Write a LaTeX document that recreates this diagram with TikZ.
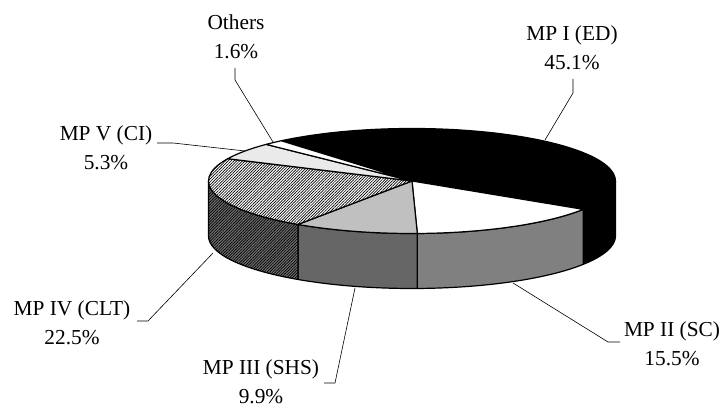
\documentclass[tikz,border=0pt]{standalone}
\usepackage{fontspec}
\setmainfont{Liberation Serif}
\usetikzlibrary{calc,patterns.meta}
\definecolor{gA}{RGB}{128,128,128}
\definecolor{gB}{RGB}{192,192,192}
\definecolor{gC}{RGB}{102,102,102}
\definecolor{gD}{RGB}{110,110,110}
\newcommand\sideface[3]{%
  \path[#3] ($(C)+(#1:203.5 and 52.5)$)
    arc[start angle=#1,end angle=#2,x radius=203.5,y radius=52.5]
    -- ++(0,-55)
    arc[start angle=#2,end angle=#1,x radius=203.5,y radius=52.5] -- cycle;}
\newcommand\topface[3]{%
  \path[#3] (C) -- ($(C)+(#1:203.5 and 52.5)$)
    arc[start angle=#1,end angle=#2,x radius=203.5,y radius=52.5] -- cycle;}
\begin{document}
\begin{tikzpicture}[x=0.75pt,y=0.75pt,
  rim/.style={draw=black,line width=0.9pt,line join=round},
  lead/.style={draw=black,line width=0.45pt},
  lab/.style={font=\fontsize{16}{21.75}\selectfont,align=center,inner sep=0pt}]
\useasboundingbox[fill=white] (0,0) rectangle (724,409);
\coordinate (C) at (412,228);
% side faces
\sideface{0}{-32.7}{rim,fill=black}
\sideface{-32.7}{-88.5}{rim,fill=gA}
\sideface{-88.5}{-124.1}{rim,fill=gC}
\sideface{-124.1}{-180}{rim,preaction={fill=gD},pattern={Lines[angle=45,distance=1.5pt,line width=0.5pt]},pattern color=black}
% top faces
\topface{130.0}{-32.7}{rim,fill=black}
\topface{-32.7}{-88.5}{rim,fill=white}
\topface{-88.5}{-124.1}{rim,fill=gB}
\topface{-124.1}{-205.1}{rim,preaction={fill=white},pattern={Lines[angle=45,distance=1.5pt,line width=0.5pt]},pattern color=black}
\topface{154.9}{135.8}{rim,preaction={fill=white},pattern={Dots[radius=0.28pt,distance=1.5pt]},pattern color=black}
\topface{135.8}{130.0}{rim,fill=white}
% labels
\node[lab] (lOth) at (236,372.5) {Others\\1.6\%};
\node[lab] (lI)   at (572,361.5) {MP I (ED)\\45.1\%};
\node[lab] (lV)   at (106,261.5) {MP V (CI)\\5.3\%};
\node[lab] (lIV)  at (72,86.5)   {MP IV (CLT)\\22.5\%};
\node[lab] (lIII) at (261,27.5)  {MP III (SHS)\\9.9\%};
\node[lab] (lII)  at (672,65.5)  {MP II (SC)\\15.5\%};
% leader points
\coordinate (oA) at (235,341); \coordinate (oB) at (235,329); \coordinate (oC) at (273,267);
\coordinate (iA) at (573,330); \coordinate (iB) at (573,316); \coordinate (iC) at (545,269);
\coordinate (vA) at (157,266); \coordinate (vB) at (173,266); \coordinate (vC) at (245,258);
\coordinate (ivA) at (137,88); \coordinate (ivB) at (148,88); \coordinate (ivC) at (213,156);
\coordinate (iiiA) at (324,26); \coordinate (iiiB) at (335,26); \coordinate (iiiC) at (355,121);
\coordinate (iiA) at (620,67); \coordinate (iiB) at (608,67); \coordinate (iiC) at (513,126);
\draw[lead] (oA) -- (oB) -- (oC);
\draw[lead] (iA) -- (iB) -- (iC);
\draw[lead] (vA) -- (vB) -- (vC);
\draw[lead] (ivA) -- (ivB) -- (ivC);
\draw[lead] (iiiA) -- (iiiB) -- (iiiC);
\draw[lead] (iiA) -- (iiB) -- (iiC);
\end{tikzpicture}
\end{document}
